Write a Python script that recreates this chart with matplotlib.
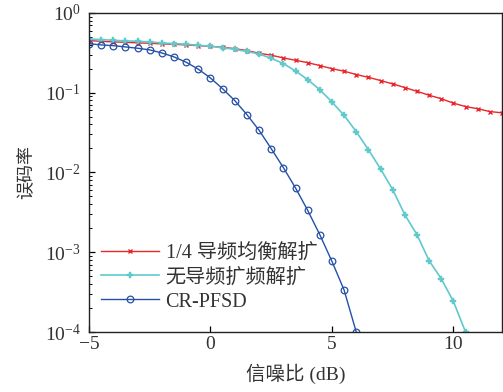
import numpy as np
import matplotlib
matplotlib.use("Agg")
import matplotlib.pyplot as plt
from matplotlib.ticker import LogLocator, NullFormatter, FixedLocator

snr_red = np.arange(-5, 12.01, 0.5)
ber_red = [0.450, 0.441, 0.433, 0.429, 0.421, 0.417, 0.409, 0.405, 0.397, 0.389,
           0.382, 0.371, 0.357, 0.337, 0.313, 0.295, 0.273, 0.255, 0.238, 0.219,
           0.200, 0.186, 0.169, 0.156, 0.142, 0.129, 0.116, 0.104, 0.093, 0.084,
           0.074, 0.067, 0.063, 0.058, 0.056]

snr_cyan = np.arange(-5, 10.51, 0.5)
ber_cyan = [0.472, 0.463, 0.454, 0.446, 0.441, 0.433, 0.421, 0.413, 0.405, 0.393,
            0.382, 0.367, 0.349, 0.329, 0.306, 0.270, 0.232, 0.187, 0.146, 0.109,
            0.0766, 0.052, 0.0325, 0.0193, 0.0111, 0.0061, 0.00296, 0.00166,
            7.84e-4, 4.66e-4, 2.42e-4, 1.0e-4]

snr_blue = np.arange(-5, 6.01, 0.5)
ber_blue = [0.412, 0.397, 0.389, 0.375, 0.361, 0.344, 0.315, 0.281, 0.241, 0.197,
            0.153, 0.112, 0.0796, 0.0531, 0.0338, 0.0199, 0.0115, 0.0064, 0.00336,
            0.00166, 7.69e-4, 3.36e-4, 1.0e-4]

labels = ["1/4 导频均衡解扩", "无导频扩频解扩", "CR-PFSD"]
xticks = [-5, 0, 5, 10]
xticklabels = ["\u22125", "0", "5", "10"]

fam = ["Liberation Serif", "Noto Sans CJK SC"]
plt.rcParams["font.family"] = fam
plt.rcParams["mathtext.fontset"] = "stix"

txt = "#333333"
fig = plt.figure(figsize=(5.03, 3.92), dpi=100)
ax = fig.add_axes([0.177, 0.153, 0.821, 0.814])

ax.semilogy(snr_red, ber_red, color="#e8262b", lw=1.0, marker="x",
            ms=3.5, mew=1.0, label=labels[0])
ax.semilogy(snr_cyan, ber_cyan, color="#5fc9cc", lw=1.2, marker="P",
            ms=4.8, mew=0.3, label=labels[1])
ax.semilogy(snr_blue, ber_blue, color="#2450a8", lw=1.0, marker="o",
            ms=4.8, mfc="none", mew=0.9, label=labels[2])

ax.set_xlim(-5, 12)
ax.set_ylim(1e-4, 1)
ax.xaxis.set_major_locator(FixedLocator(xticks))
ax.set_xticklabels(xticklabels)
ax.yaxis.set_major_locator(LogLocator(base=10, numticks=10))
ax.yaxis.set_minor_locator(LogLocator(base=10, subs=np.arange(2, 10), numticks=10))
ax.yaxis.set_minor_formatter(NullFormatter())
ax.tick_params(axis="both", which="both", direction="in", labelsize=14,
               labelcolor=txt)
ax.tick_params(axis="x", pad=3)
ax.tick_params(axis="y", pad=6)
ax.tick_params(which="major", length=4, width=0.9)
ax.tick_params(which="minor", length=2, width=0.7)
for s in ax.spines.values():
    s.set_linewidth(1.0)
    s.set_color("#222222")

ax.set_xlabel("信噪比 (dB)", fontsize=14, color=txt)
ax.set_ylabel("误码率", fontsize=13, color=txt)
ax.xaxis.set_label_coords(0.5, -0.10)
ax.yaxis.set_label_coords(-0.13, 0.5)

leg = ax.legend(loc="lower left", bbox_to_anchor=(-0.005, 0.02), frameon=False,
                fontsize=14.5, handlelength=2.9, handletextpad=0.3,
                labelspacing=0.25, borderaxespad=0.3)
for t in leg.get_texts():
    t.set_color(txt)

fig.savefig("out.png", dpi=100)
